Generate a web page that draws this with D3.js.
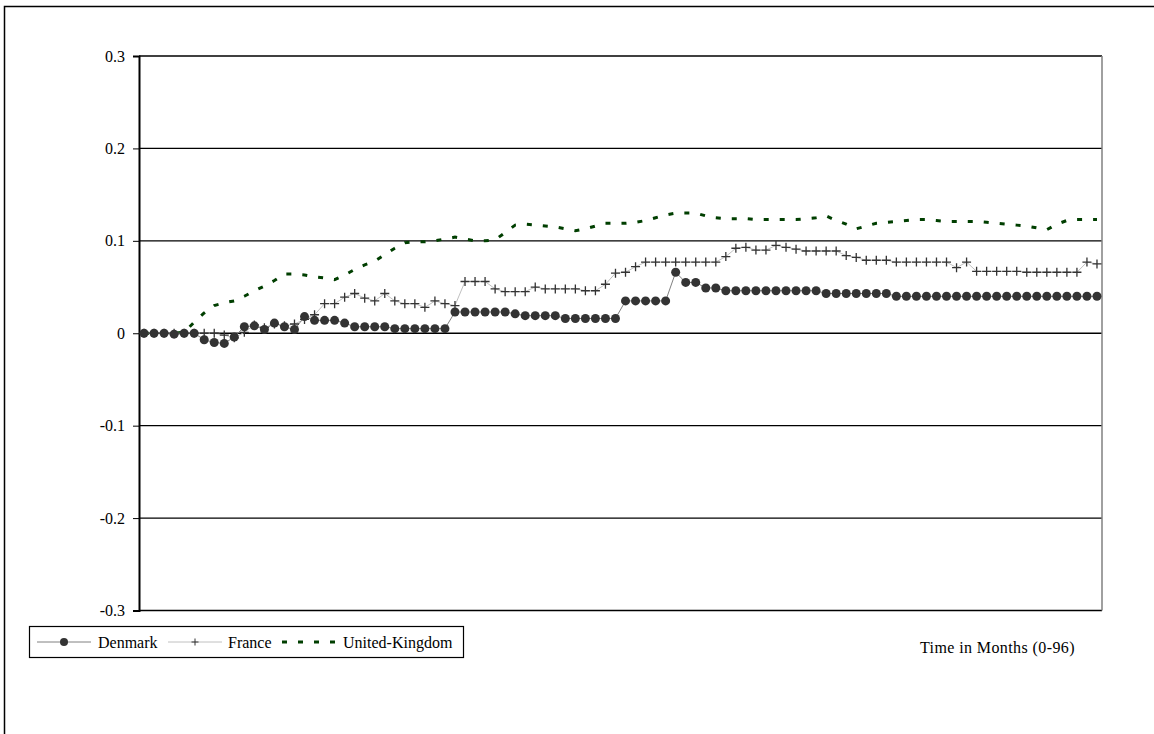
<!DOCTYPE html>
<html>
<head>
<meta charset="utf-8">
<script src="https://cdn.jsdelivr.net/npm/d3@7/dist/d3.min.js"></script>
<style>
  body { margin: 0; background: #fff; }
  text { font-family: "Liberation Serif", "Times New Roman", serif; }
</style>
</head>
<body>
<div id="chart"></div>
<script>
// months 0..95 (one value per month)
const months = d3.range(0, 96);

const denmark = [
  0.000, 0.000, 0.000, -0.001, 0.000, 0.000, -0.007, -0.010, -0.011, -0.004,
  0.007, 0.008, 0.004, 0.011, 0.007, 0.004, 0.018, 0.014, 0.014, 0.014,
  0.011, 0.007, 0.007, 0.007, 0.007, 0.005, 0.005, 0.005, 0.005, 0.005,
  0.005, 0.023, 0.023, 0.023, 0.023, 0.023, 0.023, 0.021, 0.019, 0.019,
  0.019, 0.019, 0.016, 0.016, 0.016, 0.016, 0.016, 0.016, 0.035, 0.035,
  0.035, 0.035, 0.035, 0.066, 0.055, 0.055, 0.049, 0.049, 0.046, 0.046,
  0.046, 0.046, 0.046, 0.046, 0.046, 0.046, 0.046, 0.046, 0.043, 0.043,
  0.043, 0.043, 0.043, 0.043, 0.043, 0.040, 0.040, 0.040, 0.040, 0.040,
  0.040, 0.040, 0.040, 0.040, 0.040, 0.040, 0.040, 0.040, 0.040, 0.040,
  0.040, 0.040, 0.040, 0.040, 0.040, 0.040
];

const france = [
  0.000, 0.000, 0.000, 0.000, 0.000, 0.000, 0.000, 0.000, -0.002, -0.005,
  0.001, 0.009, 0.006, 0.010, 0.008, 0.010, 0.015, 0.020, 0.032, 0.032,
  0.039, 0.043, 0.038, 0.035, 0.043, 0.035, 0.032, 0.032, 0.028, 0.035,
  0.032, 0.030, 0.056, 0.056, 0.056, 0.048, 0.045, 0.045, 0.045, 0.050,
  0.048, 0.048, 0.048, 0.048, 0.046, 0.046, 0.053, 0.065, 0.066, 0.072,
  0.077, 0.077, 0.077, 0.077, 0.077, 0.077, 0.077, 0.077, 0.083, 0.092,
  0.093, 0.090, 0.090, 0.095, 0.093, 0.091, 0.089, 0.089, 0.089, 0.089,
  0.084, 0.082, 0.079, 0.079, 0.079, 0.077, 0.077, 0.077, 0.077, 0.077,
  0.077, 0.071, 0.077, 0.067, 0.067, 0.067, 0.067, 0.067, 0.066, 0.066,
  0.066, 0.066, 0.066, 0.066, 0.077, 0.075
];

const uk = [
  0.000, 0.000, 0.000, 0.000, 0.001, 0.012, 0.022, 0.030, 0.033, 0.035,
  0.040, 0.046, 0.051, 0.057, 0.064, 0.064, 0.063, 0.061, 0.060, 0.058,
  0.063, 0.069, 0.074, 0.078, 0.085, 0.092, 0.098, 0.099, 0.099, 0.100,
  0.102, 0.104, 0.102, 0.100, 0.100, 0.101, 0.109, 0.117, 0.118, 0.117,
  0.116, 0.115, 0.113, 0.111, 0.113, 0.116, 0.119, 0.119, 0.119, 0.120,
  0.122, 0.125, 0.128, 0.130, 0.130, 0.130, 0.127, 0.125, 0.124, 0.124,
  0.124, 0.123, 0.123, 0.123, 0.123, 0.123, 0.124, 0.125, 0.127, 0.122,
  0.118, 0.113, 0.116, 0.119, 0.120, 0.121, 0.122, 0.123, 0.123, 0.122,
  0.121, 0.121, 0.121, 0.121, 0.120, 0.119, 0.118, 0.117, 0.116, 0.114,
  0.112, 0.118, 0.122, 0.123, 0.123, 0.123
];

const yTicks = [-0.3, -0.2, -0.1, 0, 0.1, 0.2, 0.3];
const seriesNames = ['Denmark', 'France', 'United-Kingdom'];

// canvas
const W = 1154, H = 734;
const plot = { left: 139, right: 1102, top: 56, bottom: 610.5 };

const svg = d3.select('#chart')
  .append('svg')
    .attr('width', W)
    .attr('height', H);

// outer chart frame
svg.append('rect')
  .attr('x', 4.5).attr('y', 6.5)
  .attr('width', W + 20).attr('height', H + 20)
  .attr('fill', 'none')
  .attr('stroke', '#000')
  .attr('stroke-width', 1.5);

// scales
const x = d3.scalePoint()
  .domain(months)
  .range([plot.left, plot.right])
  .padding(0.5);

const y = d3.scaleLinear()
  .domain([-0.3, 0.3])
  .range([plot.bottom, plot.top]);

// gridlines
svg.append('g')
  .selectAll('line')
  .data(yTicks)
  .join('line')
    .attr('x1', plot.left).attr('x2', plot.right)
    .attr('y1', d => y(d)).attr('y2', d => y(d))
    .attr('stroke', '#000')
    .attr('stroke-width', 1.3);

// right edge of plot area
svg.append('line')
  .attr('x1', plot.right).attr('x2', plot.right)
  .attr('y1', plot.top).attr('y2', plot.bottom)
  .attr('stroke', '#808080')
  .attr('stroke-width', 1.5);

// Y axis
const yAxis = svg.append('g')
  .attr('transform', `translate(${plot.left},0)`)
  .call(d3.axisLeft(y)
    .tickValues(yTicks)
    .tickSize(6)
    .tickPadding(8)
    .tickFormat(d => d === 0 ? '0' : d.toFixed(1)));

yAxis.select('.domain')
  .attr('stroke', '#000')
  .attr('stroke-width', 2);
yAxis.selectAll('.tick line').attr('stroke', '#000');
yAxis.selectAll('.tick text')
  .attr('fill', '#000')
  .style('font-family', '"Liberation Serif", serif')
  .style('font-size', '16px');

// series
const line = d3.line()
  .x((d, i) => x(months[i]))
  .y(d => y(d));

// United-Kingdom: dashed dark green
svg.append('path')
  .datum(uk)
  .attr('d', line)
  .attr('fill', 'none')
  .attr('stroke', '#003f00')
  .attr('stroke-width', 3)
  .attr('stroke-dasharray', '5,11');

// France: light grey line with + markers
svg.append('path')
  .datum(france)
  .attr('d', line)
  .attr('fill', 'none')
  .attr('stroke', '#c0c0c0')
  .attr('stroke-width', 1);

// Denmark: grey line with dots
svg.append('path')
  .datum(denmark)
  .attr('d', line)
  .attr('fill', 'none')
  .attr('stroke', '#808080')
  .attr('stroke-width', 1);

svg.append('g')
  .selectAll('path')
  .data(france)
  .join('path')
    .attr('d', (d, i) => {
      const cx = x(months[i]), cy = y(d);
      return `M${cx - 4.5},${cy}H${cx + 4.5}M${cx},${cy - 4.5}V${cy + 4.5}`;
    })
    .attr('stroke', '#333')
    .attr('stroke-width', 1.3);

svg.append('g')
  .selectAll('circle')
  .data(denmark)
  .join('circle')
    .attr('cx', (d, i) => x(months[i]))
    .attr('cy', d => y(d))
    .attr('r', 4.5)
    .attr('fill', '#333');

// legend
const legend = svg.append('g');
legend.append('rect')
  .attr('x', 29.5).attr('y', 626.5)
  .attr('width', 434).attr('height', 31)
  .attr('fill', '#fff')
  .attr('stroke', '#000')
  .attr('stroke-width', 1.2);

const ly = 642;
const legendItems = [
  { name: seriesNames[0], x1: 37, x2: 91, tx: 98 },
  { name: seriesNames[1], x1: 168, x2: 222, tx: 228 },
  { name: seriesNames[2], x1: 282, x2: 340, tx: 343 }
];

// Denmark sample
legend.append('line')
  .attr('x1', legendItems[0].x1).attr('x2', legendItems[0].x2)
  .attr('y1', ly).attr('y2', ly)
  .attr('stroke', '#808080');
legend.append('circle')
  .attr('cx', (legendItems[0].x1 + legendItems[0].x2) / 2)
  .attr('cy', ly).attr('r', 4)
  .attr('fill', '#333');

// France sample
legend.append('line')
  .attr('x1', legendItems[1].x1).attr('x2', legendItems[1].x2)
  .attr('y1', ly).attr('y2', ly)
  .attr('stroke', '#c0c0c0');
const fx = (legendItems[1].x1 + legendItems[1].x2) / 2;
legend.append('path')
  .attr('d', `M${fx - 3.5},${ly}H${fx + 3.5}M${fx},${ly - 3.5}V${ly + 3.5}`)
  .attr('stroke', '#333');

// UK sample
legend.append('line')
  .attr('x1', legendItems[2].x1).attr('x2', legendItems[2].x2)
  .attr('y1', ly).attr('y2', ly)
  .attr('stroke', '#003f00')
  .attr('stroke-width', 3)
  .attr('stroke-dasharray', '5,11');

legend.selectAll('text')
  .data(legendItems)
  .join('text')
    .attr('x', d => d.tx)
    .attr('y', ly)
    .attr('dy', '0.35em')
    .style('font-size', '16px')
    .text(d => d.name);

// x axis caption
svg.append('text')
  .attr('x', 920)
  .attr('y', 647)
  .attr('dy', '0.35em')
  .style('font-size', '16px')
  .style('letter-spacing', '0.4px')
  .text('Time in Months (0-96)');
</script>
</body>
</html>
